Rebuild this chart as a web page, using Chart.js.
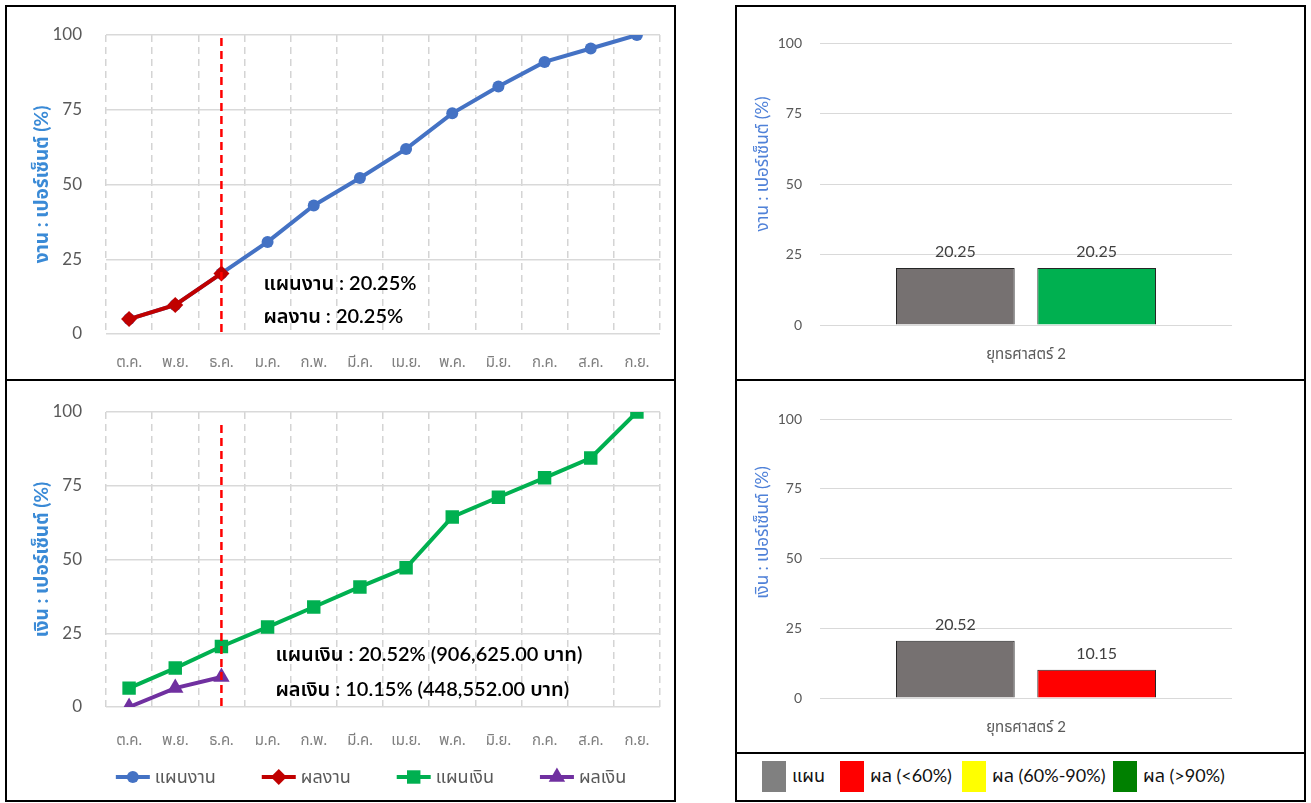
<!DOCTYPE html>
<html>
<head>
<meta charset="utf-8">
<script src="https://cdn.jsdelivr.net/npm/chart.js@4.4.1/dist/chart.umd.min.js"></script>
<style>
  body { margin: 0; background: #fff; width: 1311px; height: 803px; position: relative; overflow: hidden; }
  .panel { position: absolute; border: 2px solid #000; box-sizing: border-box; background: #fff; }
  .panel canvas { display: block; }
  #legendBox { font-family: Lato, "Noto Sans Thai", "Noto Sans", sans-serif; font-size: 18px; color: #111; }
  #legendBox .it { position: absolute; top: 7px; display: flex; align-items: center; white-space: nowrap; }
  #legendBox .sw { width: 24px; height: 31px; margin-right: 6px; }
</style>
</head>
<body>
<div class="panel" style="left:5px;top:5px;width:671px;height:376px"><canvas id="workLine" width="667" height="372"></canvas></div>
<div class="panel" style="left:5px;top:379px;width:671px;height:423px"><canvas id="moneyLine" width="667" height="419"></canvas></div>
<div class="panel" style="left:735px;top:5px;width:571px;height:376px"><canvas id="workBar" width="567" height="372"></canvas></div>
<div class="panel" style="left:735px;top:379px;width:571px;height:375px"><canvas id="moneyBar" width="567" height="371"></canvas></div>
<div class="panel" id="legendBox" style="left:735px;top:752px;width:571px;height:50px"></div>

<script>
const FONT = 'Lato, "Noto Sans Thai", "Noto Sans", sans-serif';

// months (fiscal year)
const months = ["ต.ค.", "พ.ย.", "ธ.ค.", "ม.ค.", "ก.พ.", "มี.ค.", "เม.ย.", "พ.ค.", "มิ.ย.", "ก.ค.", "ส.ค.", "ก.ย."];
const currentMonth = 2; // ธ.ค.

// line chart values (%)
const planWork = [5, 9.7, 20.25, 30.8, 43, 52.2, 61.9, 73.8, 82.8, 91, 95.5, 100];
const resultWork = [5, 9.7, 20.25, null, null, null, null, null, null, null, null, null];
const planMoney = [6.4, 13.2, 20.52, 27.1, 33.9, 40.7, 47.2, 64.4, 71.1, 77.7, 84.4, 100];
const resultMoney = [0, 6.4, 10.15, null, null, null, null, null, null, null, null, null];
const seriesNames = ["แผนงาน", "ผลงาน", "แผนเงิน", "ผลเงิน"];

// amounts in baht
const planMoneyBaht = "906,625.00";
const resultMoneyBaht = "448,552.00";

// bar charts
const barCategory = ["ยุทธศาสตร์ 2"];
const workBars = [20.25, 20.25];   // แผน, ผล
const moneyBars = [20.52, 10.15];  // แผน, ผล
const barLegend = ["แผน", "ผล (<60%)", "ผล (60%-90%)", "ผล (>90%)"];
const barLegendColors = ["#808080", "#FF0000", "#FFFF00", "#008000"];
const barLegendLeft = [25, 103, 225, 376];

const yMax = 100, yStep = 25;

const styles = {
  "แผนงาน": { color: "#4472C4", pointStyle: "circle", radius: 6 },
  "ผลงาน": { color: "#C00000", pointStyle: "rectRot", radius: 8 },
  "แผนเงิน": { color: "#00B050", pointStyle: "rect", radius: 9.5 },
  "ผลเงิน": { color: "#7030A0", pointStyle: "triangle", radius: 9.5 }
};

function lineSet(name, data, order) {
  const s = styles[name];
  return {
    label: name, data, order,
    borderColor: s.color, backgroundColor: s.color, borderWidth: 4,
    pointStyle: s.pointStyle, pointRadius: s.radius, pointBorderWidth: 0,
    pointBackgroundColor: s.color, tension: 0, spanGaps: false
  };
}

// red dashed "current month" line + text block
const markerPlugin = {
  id: "marker",
  afterDatasetsDraw(chart, args, opts) {
    const { ctx, chartArea, scales: { x } } = chart;
    const px = x.getPixelForValue(opts.index);
    ctx.save();
    ctx.strokeStyle = "#FF0000";
    ctx.lineWidth = 2.5;
    ctx.setLineDash([8, 5]);
    ctx.beginPath();
    ctx.moveTo(px, chartArea.top + opts.topGap);
    ctx.lineTo(px, chartArea.bottom);
    ctx.stroke();
    ctx.setLineDash([]);
    ctx.fillStyle = "#000";
    ctx.font = "600 20px " + FONT;
    ctx.textBaseline = "middle";
    opts.lines.forEach((t, i) => ctx.fillText(t, px + opts.dx, chartArea.bottom - opts.dy[i]));
    ctx.restore();
  }
};

// legend with line + marker, like the office chart
const lineLegend = {
  id: "lineLegend",
  afterDraw(chart, args, opts) {
    if (!opts.items) return;
    const ctx = chart.ctx;
    const lineW = 34, gapText = 5, gapItem = 46;
    ctx.save();
    ctx.font = "18px " + FONT;
    const widths = opts.items.map(n => lineW + gapText + ctx.measureText(n).width);
    const total = widths.reduce((a, b) => a + b, 0) + gapItem * (widths.length - 1);
    let x = (chart.chartArea.left + chart.chartArea.right) / 2 - total / 2 - 12;
    const y = opts.y;
    opts.items.forEach((n, i) => {
      const s = styles[n];
      ctx.strokeStyle = s.color;
      ctx.lineWidth = 4;
      ctx.beginPath();
      ctx.moveTo(x, y);
      ctx.lineTo(x + lineW, y);
      ctx.stroke();
      ctx.fillStyle = s.color;
      Chart.helpers.drawPoint(ctx, { pointStyle: s.pointStyle, radius: s.radius, borderWidth: 0, rotation: 0 }, x + lineW / 2, y);
      ctx.fillStyle = "#595959";
      ctx.textBaseline = "middle";
      ctx.fillText(n, x + lineW + gapText, y);
      x += widths[i] + gapItem;
    });
    ctx.restore();
  }
};

function lineChart(id, datasets, yTitle, o) {
  return new Chart(document.getElementById(id), {
    type: "line",
    data: { labels: months, datasets },
    options: {
      responsive: false, animation: false, events: [],
      layout: { autoPadding: false, padding: { top: o.top, right: 14, left: 0, bottom: o.bottom } },
      plugins: {
        legend: { display: false }, tooltip: { enabled: false },
        marker: o.marker,
        lineLegend: o.legend || {}
      },
      scales: {
        x: {
          offset: true,
          grid: { offset: true, color: "#d4d4d4", lineWidth: 1.5, drawTicks: false },
          border: { display: false, dash: [7, 5] },
          ticks: { color: "#7f7f7f", font: { size: 15, family: FONT }, padding: o.xPad, maxRotation: 0, autoSkip: false },
          afterFit: s => { s.height = o.xH; }
        },
        y: {
          min: 0, max: yMax,
          grid: { color: "#d9d9d9", lineWidth: 1.5, drawTicks: false },
          border: { display: false },
          ticks: { stepSize: yStep, color: "#595959", font: { size: 17, family: FONT }, padding: 24 },
          title: { display: true, text: yTitle, color: "#3A8AD6", font: { size: 19, weight: "bold", family: FONT }, padding: { top: 23, bottom: 0 } },
          afterFit: s => { s.width = 99; s.paddingTop = 0; s.paddingBottom = 0; }
        }
      }
    },
    plugins: [markerPlugin, lineLegend]
  });
}

lineChart("workLine",
  [lineSet("ผลงาน", resultWork, 0), lineSet("แผนงาน", planWork, 1)],
  "งาน : เปอร์เซ็นต์ (%)",
  {
    top: 28, bottom: 0, xH: 45, xPad: 19,
    marker: { index: currentMonth, topGap: 3, dx: 42, dy: [50, 17],
      lines: [`แผนงาน : ${planWork[currentMonth]}%`, `ผลงาน : ${resultWork[currentMonth]}%`] }
  });

lineChart("moneyLine",
  [lineSet("ผลเงิน", resultMoney, 0), lineSet("แผนเงิน", planMoney, 1)],
  "เงิน : เปอร์เซ็นต์ (%)",
  {
    top: 31, bottom: 45, xH: 48, xPad: 24,
    marker: { index: currentMonth, topGap: 13, dx: 54, dy: [52, 17],
      lines: [`แผนเงิน : ${planMoney[currentMonth]}% (${planMoneyBaht} บาท)`,
              `ผลเงิน : ${resultMoney[currentMonth]}% (${resultMoneyBaht} บาท)`] },
    legend: { items: seriesNames, y: 396 }
  });

// value labels above bars
const barLabels = {
  id: "barLabels",
  afterDatasetsDraw(chart) {
    const ctx = chart.ctx;
    ctx.save();
    ctx.font = "16px " + FONT;
    ctx.fillStyle = "#404040";
    ctx.textAlign = "center";
    ctx.textBaseline = "middle";
    chart.data.datasets.forEach((ds, i) => {
      chart.getDatasetMeta(i).data.forEach((bar, j) => {
        ctx.fillText(ds.data[j].toFixed(2), bar.x, bar.y - 16);
      });
    });
    ctx.restore();
  }
};

// rotated axis title, sitting a bit above the plot centre as in the office chart
const sideTitle = {
  id: "sideTitle",
  afterDraw(chart, args, opts) {
    const { ctx, chartArea } = chart;
    ctx.save();
    ctx.translate(opts.x, (chartArea.top + chartArea.bottom) / 2 - opts.lift);
    ctx.rotate(-Math.PI / 2);
    ctx.font = "17px " + FONT;
    ctx.fillStyle = "#4F81D8";
    ctx.textAlign = "center";
    ctx.textBaseline = "middle";
    ctx.fillText(opts.text, 0, 0);
    ctx.restore();
  }
};

function barChart(id, values, yTitle, top, lift) {
  const pct = values[1] / values[0] * 100;
  const resultColor = pct < 60 ? "#FF0000" : pct <= 90 ? "#FFFF00" : "#00B050";
  return new Chart(document.getElementById(id), {
    type: "bar",
    data: {
      labels: barCategory,
      datasets: [
        { label: barLegend[0], data: [values[0]], backgroundColor: "#767171", borderColor: "#262626", borderWidth: 1 },
        { label: "ผล", data: [values[1]], backgroundColor: resultColor, borderColor: "#262626", borderWidth: 1 }
      ]
    },
    options: {
      responsive: false, animation: false, events: [],
      layout: { padding: { top, right: 72, left: 0, bottom: 0 } },
      datasets: { bar: { categoryPercentage: 0.686, barPercentage: 0.84 } },
      plugins: {
        legend: { display: false }, tooltip: { enabled: false },
        sideTitle: { text: yTitle, x: 26, lift }
      },
      scales: {
        x: {
          grid: { display: false }, border: { display: false },
          ticks: { color: "#595959", font: { size: 15, family: FONT }, padding: 12 },
          afterFit: s => { s.height = 54; }
        },
        y: {
          min: 0, max: yMax,
          grid: { color: "#d9d9d9", drawTicks: false },
          border: { display: false },
          ticks: { stepSize: yStep, color: "#595959", font: { size: 14, family: FONT }, padding: 18 },
          afterFit: s => { s.width = 83; }
        }
      }
    },
    plugins: [barLabels, sideTitle]
  });
}

barChart("workBar", workBars, "งาน : เปอร์เซ็นต์ (%)", 36, 20);
barChart("moneyBar", moneyBars, "เงิน : เปอร์เซ็นต์ (%)", 38, 26);

// colour key under the bar charts
const box = document.getElementById("legendBox");
barLegend.forEach((t, i) => {
  const it = document.createElement("div");
  it.className = "it";
  it.style.left = barLegendLeft[i] + "px";
  it.innerHTML = `<div class="sw" style="background:${barLegendColors[i]}"></div><span>${t}</span>`;
  box.appendChild(it);
});
</script>
</body>
</html>
